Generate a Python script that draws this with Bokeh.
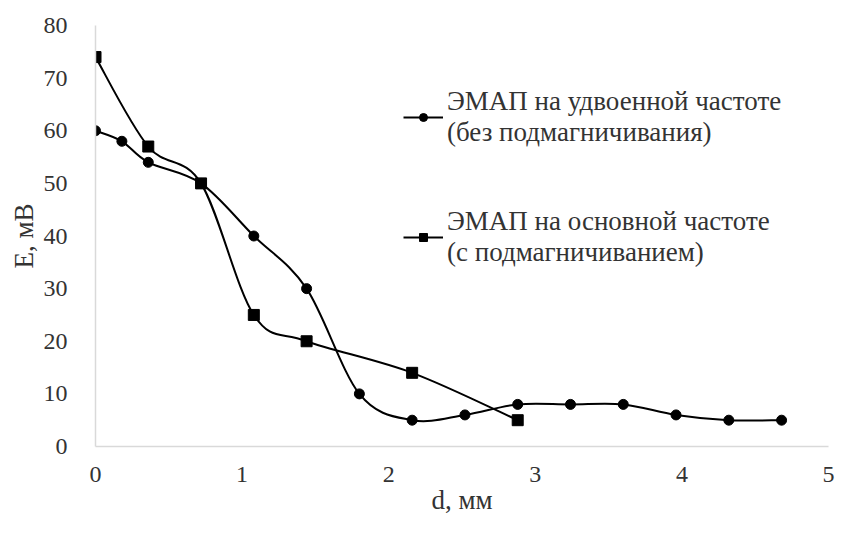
import numpy as np
from bokeh.plotting import figure
from bokeh.models import Range1d, FixedTicker, Legend, LegendItem
from bokeh.embed import file_html
from bokeh.resources import INLINE

# ---- data ----
d_double = [0, 0.18, 0.36, 0.72, 1.08, 1.44, 1.80, 2.16, 2.52, 2.88, 3.24, 3.60, 3.96, 4.32, 4.68]
e_double = [60, 58, 54, 50, 40, 30, 10, 5, 6, 8, 8, 8, 6, 5, 5]
d_main = [0, 0.36, 0.72, 1.08, 1.44, 2.16, 2.88]
e_main = [74, 57, 50, 25, 20, 14, 5]
label_double = "ЭМАП на удвоенной частоте\n(без подмагничивания)"
label_main = "ЭМАП на основной частоте\n(с подмагничиванием)"
x_ticks = [0, 1, 2, 3, 4, 5]
y_ticks = [0, 10, 20, 30, 40, 50, 60, 70, 80]
x_title = "d, мм"
y_title = "E, мВ"

FONT = "'Liberation Serif', 'Times New Roman', 'DejaVu Serif', serif"


def smooth_segments(xs, ys):
    """Catmull-Rom style Bezier control points (like Excel's smoothed line)."""
    x = np.asarray(xs, float)
    y = np.asarray(ys, float)
    n = len(x)
    xp = np.concatenate([[x[0]], x, [x[-1]]])
    yp = np.concatenate([[y[0]], y, [y[-1]]])
    i = np.arange(n - 1)
    cx0 = xp[i + 1] + (xp[i + 2] - xp[i]) / 6.0
    cy0 = yp[i + 1] + (yp[i + 2] - yp[i]) / 6.0
    cx1 = xp[i + 2] - (xp[i + 3] - xp[i + 1]) / 6.0
    cy1 = yp[i + 2] - (yp[i + 3] - yp[i + 1]) / 6.0
    return dict(x0=x[:-1], y0=y[:-1], x1=x[1:], y1=y[1:],
                cx0=cx0, cy0=cy0, cx1=cx1, cy1=cy1)


p = figure(width=835, height=517, output_backend="svg", toolbar_location=None,
           x_range=Range1d(0, 5), y_range=Range1d(0, 80),
           min_border_left=95, min_border_right=7, min_border_top=25, min_border_bottom=60)

p.grid.visible = False
p.outline_line_color = None
p.background_fill_color = "white"
p.border_fill_color = "white"

for ax in (p.xaxis[0], p.yaxis[0]):
    ax.axis_line_color = "#d9d9d9"
    ax.axis_line_width = 1.5
    ax.major_tick_line_color = None
    ax.minor_tick_line_color = None
    ax.major_label_text_font = FONT
    ax.major_label_text_font_size = "24px"
    ax.major_label_text_color = "#333333"
    ax.axis_label_text_font = FONT
    ax.axis_label_text_font_size = "27px"
    ax.axis_label_text_font_style = "normal"
    ax.axis_label_text_color = "#333333"

p.xaxis.ticker = FixedTicker(ticks=x_ticks)
p.yaxis.ticker = FixedTicker(ticks=y_ticks)
p.xaxis.major_label_standoff = 14
p.yaxis.major_label_standoff = 22
p.xaxis.axis_label = x_title
p.yaxis.axis_label = y_title
p.xaxis.axis_label_standoff = 0
p.yaxis.axis_label_standoff = 2

# series 1: circles, smoothed line
s1 = smooth_segments(d_double, e_double)
p.bezier(x0=s1["x0"], y0=s1["y0"], x1=s1["x1"], y1=s1["y1"],
         cx0=s1["cx0"], cy0=s1["cy0"], cx1=s1["cx1"], cy1=s1["cy1"],
         line_color="black", line_width=2)
m1 = p.scatter(d_double, e_double, marker="circle", size=10, color="black")

# series 2: squares, smoothed line
s2 = smooth_segments(d_main, e_main)
p.bezier(x0=s2["x0"], y0=s2["y0"], x1=s2["x1"], y1=s2["y1"],
         cx0=s2["cx0"], cy0=s2["cy0"], cx1=s2["cx1"], cy1=s2["cy1"],
         line_color="black", line_width=2)
m2 = p.scatter(d_main, e_main, marker="square", size=11, color="black")

# legend line proxies (no visible data)
lg1 = p.line(x=[np.nan, np.nan], y=[np.nan, np.nan], line_color="black", line_width=2)
lg2 = p.line(x=[np.nan, np.nan], y=[np.nan, np.nan], line_color="black", line_width=2)

legend = Legend(items=[LegendItem(label=label_double, renderers=[lg1, m1]),
                       LegendItem(label=label_main, renderers=[lg2, m2])],
                location=(308, 178), orientation="vertical",
                label_text_font=FONT, label_text_font_size="27px",
                label_text_color="#333333", label_text_line_height=0.97,
                glyph_width=40, glyph_height=20, label_standoff=4,
                spacing=58, padding=0, margin=0,
                border_line_color=None, background_fill_alpha=0)
p.add_layout(legend, "center")

open("out.html", "w").write(file_html(p, INLINE))
